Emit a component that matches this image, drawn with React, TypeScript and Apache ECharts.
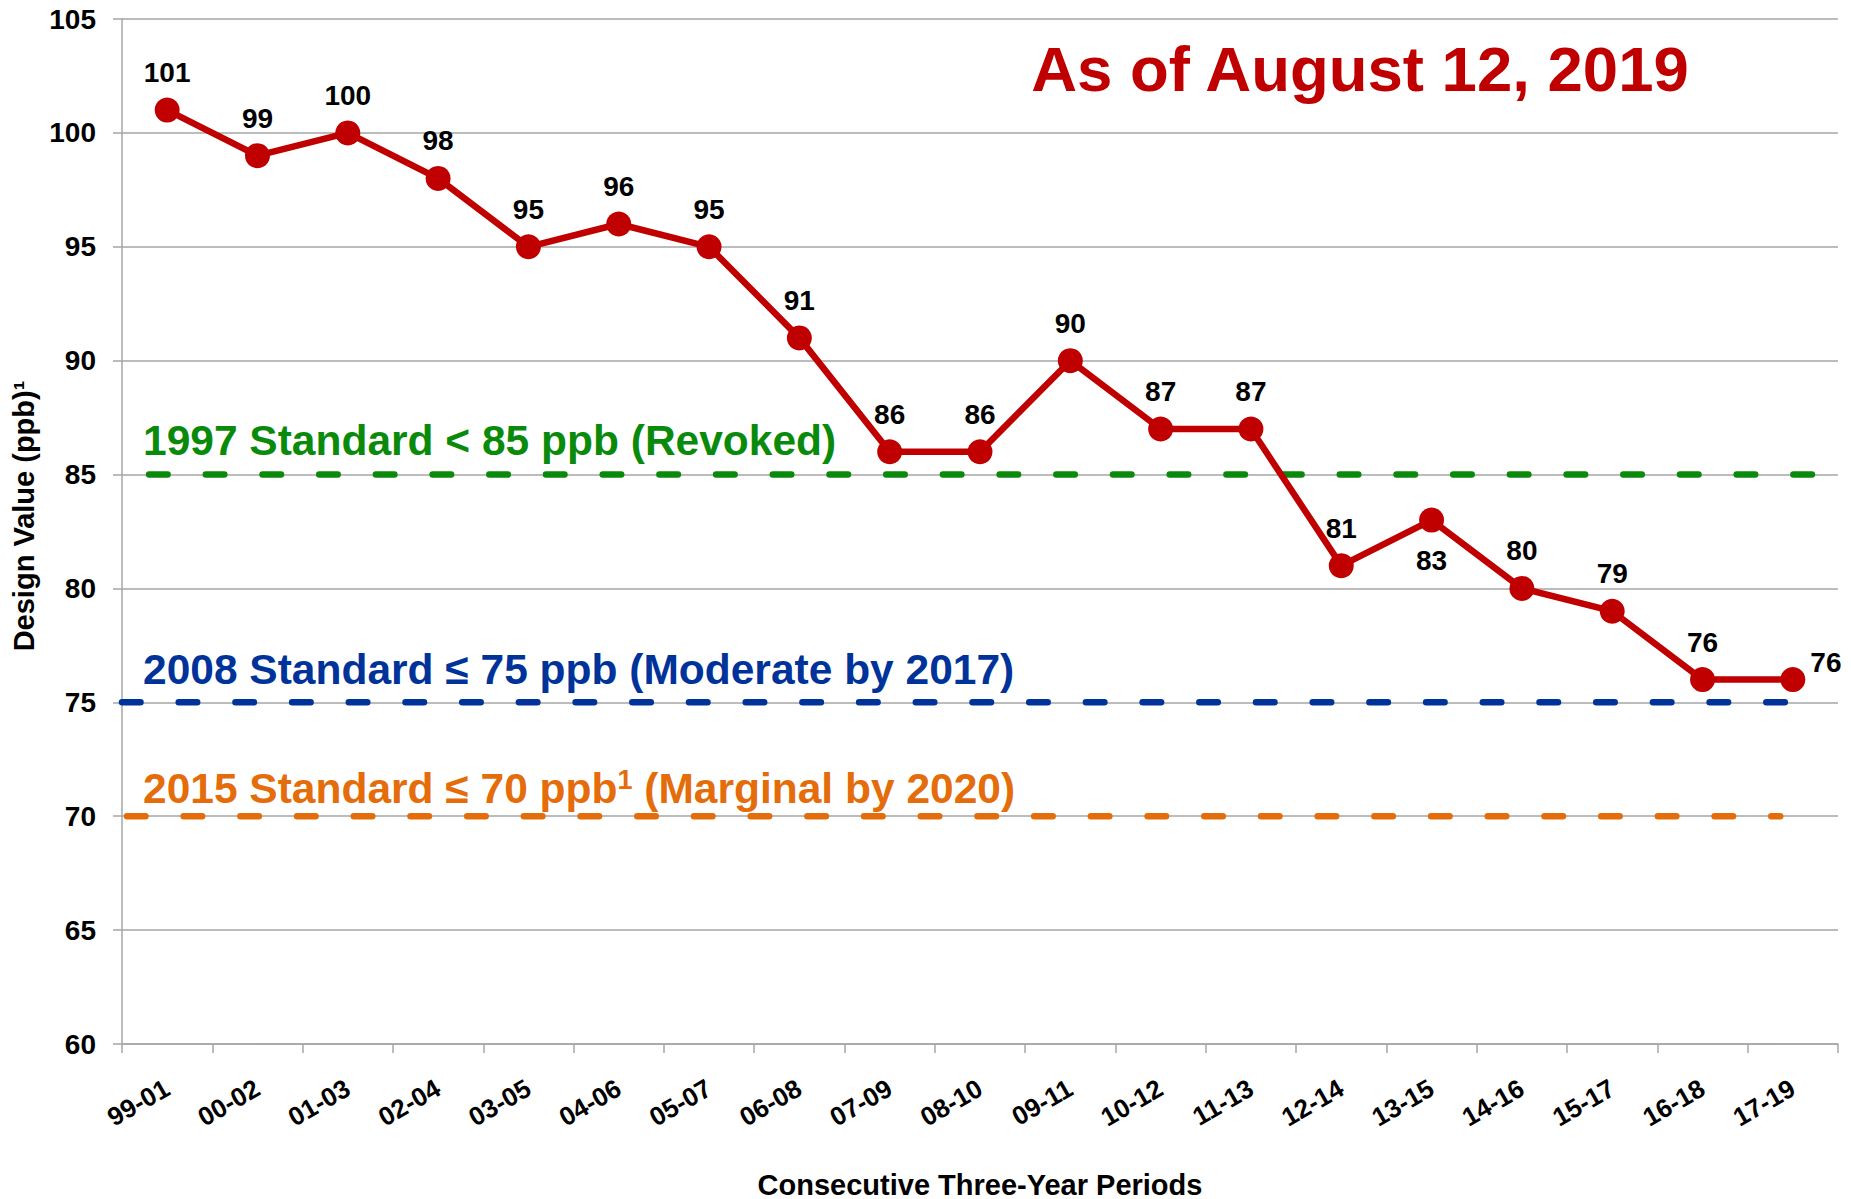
import React, { useEffect, useRef } from "react";
import * as echarts from "echarts";

const categories = ["99-01", "00-02", "01-03", "02-04", "03-05", "04-06", "05-07", "06-08", "07-09", "08-10", "09-11", "10-12", "11-13", "12-14", "13-15", "14-16", "15-17", "16-18", "17-19"];
const designValues = [101, 99, 100, 98, 95, 96, 95, 91, 86, 86, 90, 87, 87, 81, 83, 80, 79, 76, 76];
const yMin = 60;
const yMax = 105;
const yStep = 5;

const standardValues = [85, 75, 70];
const standardTexts = [
  "1997 Standard < 85 ppb (Revoked)",
  "2008 Standard \u2264 75 ppb (Moderate by 2017)",
  "2015 Standard \u2264 70 ppb{s|1} (Marginal by 2020)",
];
const standardColors = ["#0a8a0a", "#003399", "#e46c0a"];
// extent of each dashed standard line, in category widths from the left edge
const standardStart = [0.3, 0.0, 0.055];
const standardEnd = [18.72, 18.42, 18.36];

const titleText = "As of August 12, 2019";
const xAxisTitle = "Consecutive Three-Year Periods";
const yAxisTitle = "Design Value (ppb)\u00B9";

const FONT = "'Liberation Sans', Arial, Helvetica, sans-serif";

export default function App() {
  const ref = useRef<HTMLDivElement>(null);

  useEffect(() => {
    document.body.style.margin = "0";
    if (!ref.current) return;
    const chart = echarts.init(ref.current, undefined, { renderer: "svg" });

    const labelFor = (i: number) => {
      if (i === 14) return { position: "bottom", distance: 14 };
      if (i === designValues.length - 1) return { position: "right", distance: 5, offset: [0, -17] };
      return undefined;
    };

    const mainData = designValues.map((v, i) => {
      const l = labelFor(i);
      return l ? { value: v, label: l } : v;
    });

    const standardSeries = standardValues.map((v, i) => ({
      type: "line",
      xAxisIndex: 1,
      yAxisIndex: 0,
      data: [
        [standardStart[i], v],
        [standardEnd[i], v],
      ],
      symbol: "none",
      silent: true,
      z: 1,
      lineStyle: { color: standardColors[i], width: 6.5, type: [18.5, 38.2], cap: "round" },
    }));

    chart.setOption({
      animation: false,
      backgroundColor: "#ffffff",
      grid: { left: 122, right: 13, top: 19, bottom: 155, containLabel: false, outerBoundsMode: "none" },
      xAxis: [
        {
          type: "category",
          data: categories,
          boundaryGap: true,
          axisLine: { show: true, lineStyle: { color: "#a6a6a6", width: 1.5 } },
          axisTick: { show: true, length: 9, interval: 0, alignWithLabel: false, lineStyle: { color: "#a6a6a6", width: 1.5 } },
          axisLabel: {
            interval: 0,
            rotate: 30,
            margin: 42,
            color: "#000000",
            fontFamily: FONT,
            fontWeight: "bold",
            fontSize: 26,
          },
          splitLine: { show: false },
          name: xAxisTitle,
          nameLocation: "middle",
          nameGap: 126,
          nameTextStyle: { color: "#000000", fontFamily: FONT, fontWeight: "bold", fontSize: 29 },
        },
        {
          type: "value",
          min: 0,
          max: categories.length,
          show: false,
          gridIndex: 0,
        },
      ],
      yAxis: {
        type: "value",
        min: yMin,
        max: yMax,
        interval: yStep,
        axisLine: { show: true, lineStyle: { color: "#a6a6a6", width: 1.5 } },
        axisTick: { show: true, length: 9, lineStyle: { color: "#a6a6a6", width: 1.5 } },
        axisLabel: {
          margin: 26,
          color: "#000000",
          fontFamily: FONT,
          fontWeight: "bold",
          fontSize: 28,
        },
        splitLine: { show: true, lineStyle: { color: "#a6a6a6", width: 1.5 } },
      },
      series: [
        ...standardSeries,
        {
          type: "line",
          name: "Design Value",
          data: mainData,
          xAxisIndex: 0,
          yAxisIndex: 0,
          z: 5,
          symbol: "circle",
          symbolSize: 25,
          lineStyle: { color: "#c00000", width: 6.5 },
          itemStyle: { color: "#c00000" },
          label: {
            show: true,
            position: "top",
            distance: 11,
            color: "#000000",
            fontFamily: FONT,
            fontWeight: "bold",
            fontSize: 28,
          },
        },
      ],
      graphic: [
        {
          type: "text",
          x: 1360,
          y: 69,
          z: 10,
          style: {
            text: titleText,
            fill: "#c00000",
            font: `bold 63.5px ${FONT}`,
            align: "center",
            verticalAlign: "middle",
          },
        },
        {
          type: "text",
          x: 24,
          y: 516,
          rotation: Math.PI / 2,
          z: 10,
          style: {
            text: yAxisTitle,
            fill: "#000000",
            font: `bold 29px ${FONT}`,
            align: "center",
            verticalAlign: "middle",
          },
        },
        ...standardTexts.map((t, i) => ({
          type: "text",
          x: 143,
          y: [440, 669, 788][i],
          z: 10,
          style: {
            text: t,
            fill: standardColors[i],
            font: `bold 42.5px ${FONT}`,
            align: "left",
            verticalAlign: "middle",
            rich: {
              s: {
                fill: standardColors[i],
                font: `bold 27px ${FONT}`,
                padding: [0, 0, 16, 0],
              },
            },
          },
        })),
      ],
    });

    return () => chart.dispose();
  }, []);

  return <div ref={ref} style={{ position: "absolute", left: 0, top: 0, width: 1851, height: 1199 }} />;
}
